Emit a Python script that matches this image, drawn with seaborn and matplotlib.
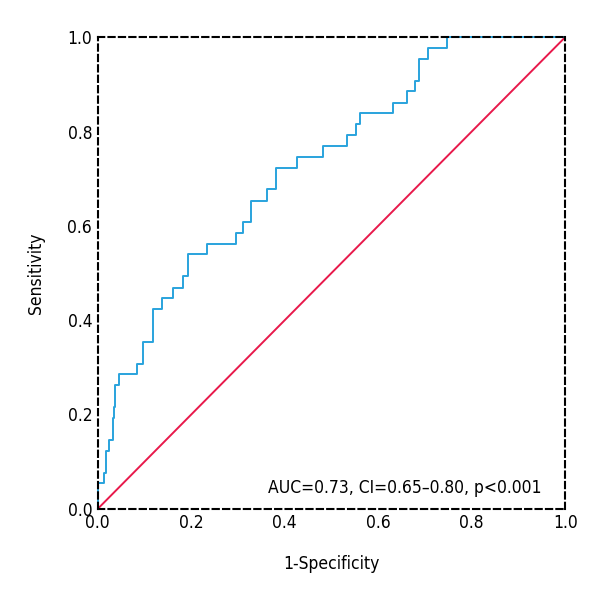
import pandas as pd
import seaborn as sns
import matplotlib.pyplot as plt

# ROC curve points (1-specificity, sensitivity)
fpr = [0.000, 0.000, 0.013, 0.017, 0.024, 0.032, 0.034, 0.036, 0.045, 0.084,
       0.096, 0.118, 0.137, 0.161, 0.182, 0.193, 0.233, 0.296, 0.310, 0.328,
       0.362, 0.381, 0.426, 0.482, 0.533, 0.552, 0.561, 0.632, 0.662, 0.679,
       0.687, 0.707, 0.747, 1.000]
tpr = [0.000, 0.055, 0.076, 0.123, 0.146, 0.193, 0.216, 0.263, 0.286, 0.307,
       0.354, 0.424, 0.447, 0.468, 0.494, 0.540, 0.561, 0.585, 0.608, 0.653,
       0.678, 0.722, 0.746, 0.769, 0.792, 0.816, 0.839, 0.860, 0.886, 0.907,
       0.953, 0.977, 1.000, 1.000]
ref_line = [0.0, 1.0]
ticks = [0.0, 0.2, 0.4, 0.6, 0.8, 1.0]
stats_text = "AUC=0.73, CI=0.65\u20130.80, p<0.001"

df = pd.DataFrame({"fpr": fpr, "tpr": tpr})
df_ref = pd.DataFrame({"x": ref_line, "y": ref_line})

sns.set_style("white")
plt.rcParams["font.family"] = ["DejaVu Sans"]
plt.rcParams["font.stretch"] = "condensed"
plt.rcParams["text.color"] = "black"
plt.rcParams["axes.labelcolor"] = "black"
plt.rcParams["xtick.color"] = "black"
plt.rcParams["ytick.color"] = "black"

fig = plt.figure(figsize=(6, 6), dpi=100)
ax = fig.add_axes([0.163, 0.152, 0.779, 0.786])

sns.lineplot(data=df_ref, x="x", y="y", color="#e8194b", linewidth=1.4,
             estimator=None, sort=False, ax=ax)
sns.lineplot(data=df, x="fpr", y="tpr", color="#29a3dd", linewidth=1.4,
             estimator=None, sort=False, drawstyle="steps-post",
             clip_on=False, ax=ax)

ax.set_xlim(0, 1)
ax.set_ylim(0, 1)
ax.set_xticks(ticks)
ax.set_yticks(ticks)
ax.set_xticklabels([f"{t:.1f}" for t in ticks])
ax.set_yticklabels([f"{t:.1f}" for t in ticks])
ax.tick_params(length=0, labelsize=12.5, pad=4)

for side in ["top", "bottom", "left", "right"]:
    ax.spines[side].set_visible(True)
    ax.spines[side].set_linestyle((0, (3, 2)))
    ax.spines[side].set_linewidth(1.5)
    ax.spines[side].set_color("black")

ax.set_xlabel("1-Specificity", fontsize=12.5, labelpad=16)
ax.set_ylabel("Sensitivity", fontsize=12.5, labelpad=16)

ax.text(0.95, 0.045, stats_text, ha="right", va="center", fontsize=12.5)

plt.savefig("out.png")
